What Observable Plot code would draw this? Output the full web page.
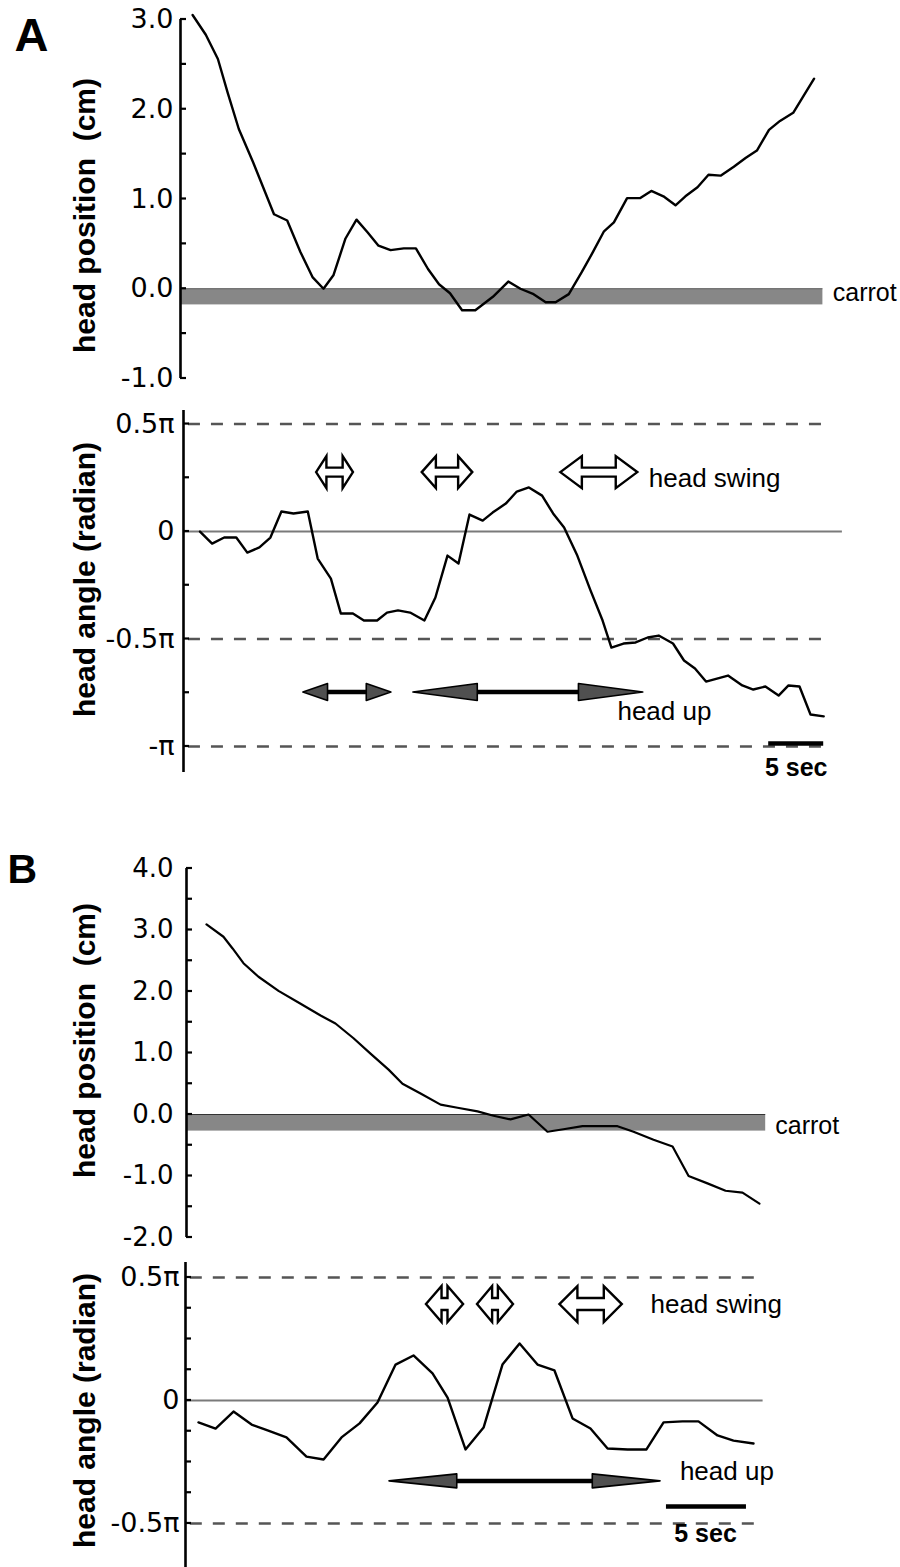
<!DOCTYPE html>
<html>
<head>
<meta charset="utf-8">
<script src="https://cdn.jsdelivr.net/npm/d3@7"></script>
<script src="https://cdn.jsdelivr.net/npm/@observablehq/plot@0.6"></script>
<style>
  body { margin: 0; background: #fff; }
  #fig { position: relative; width: 900px; height: 1567px; font-family: "Liberation Sans", Arial, Helvetica, sans-serif; }
  #fig svg { position: absolute; left: 0; overflow: visible; }
</style>
</head>
<body>
<div id="fig"></div>
<script>
const FONT = '"Liberation Sans", Arial, Helvetica, sans-serif';
const TICK_FONT = '"DejaVu Sans", "Liberation Sans", Arial, sans-serif';

// ---------- DATA ----------
// Panel A, head position (cm) vs time (s)
const aPosTime  = [1.1,2.3,3.4,4.3,5.3,6.6,8.5,9.7,10.9,12.0,13.0,13.9,15.0,16.0,17.0,18.0,19.1,20.3,21.4,22.5,23.5,24.5,25.6,26.8,28.4,29.8,30.9,32.1,33.2,34.1,35.3,36.5,37.5,38.5,39.4,40.6,41.8,42.8,43.9,45.0,45.9,47.0,48.0,49.1,50.3,51.4,52.4,53.5,54.5,55.7,56.6,57.6];
const aPosValue = [3.05,2.83,2.56,2.18,1.78,1.41,0.83,0.76,0.41,0.13,0.0,0.15,0.56,0.77,0.63,0.48,0.43,0.45,0.45,0.22,0.05,-0.05,-0.24,-0.24,-0.09,0.08,0.0,-0.06,-0.15,-0.15,-0.06,0.19,0.41,0.64,0.74,1.01,1.01,1.09,1.03,0.93,1.03,1.13,1.27,1.26,1.36,1.46,1.54,1.77,1.87,1.96,2.14,2.34];
// Panel A, head angle (units of pi rad) vs time (s)
const aAngTime  = [1.5,2.6,3.7,4.8,5.8,6.9,7.9,8.9,10.0,11.3,12.2,13.4,14.3,15.4,16.4,17.6,18.5,19.5,20.6,21.9,22.9,24.0,25.0,26.0,27.2,28.1,29.3,30.3,31.4,32.6,33.6,34.6,35.8,37.0,38.1,38.9,40.0,41.1,42.2,43.2,44.5,45.5,46.5,47.5,48.5,49.5,50.8,51.8,52.9,54.1,55.0,56.0,57.0,58.2];
const aAngValue = [0,-0.056,-0.028,-0.028,-0.098,-0.074,-0.028,0.093,0.084,0.093,-0.126,-0.219,-0.381,-0.381,-0.414,-0.414,-0.377,-0.367,-0.377,-0.414,-0.307,-0.112,-0.149,0.079,0.051,0.088,0.13,0.186,0.205,0.167,0.084,0.019,-0.112,-0.274,-0.414,-0.54,-0.521,-0.516,-0.493,-0.484,-0.521,-0.6,-0.637,-0.698,-0.684,-0.67,-0.716,-0.735,-0.721,-0.763,-0.716,-0.721,-0.851,-0.86];
// Panel B, head position (cm)
const bPosTime  = [1.25,2.31,2.88,3.56,4.5,5.75,7.13,8.38,9.31,10.44,11.5,12.63,13.5,14.63,15.88,16.94,18.19,19.19,20.25,21.38,22.56,23.56,24.75,25.88,26.94,27.94,29.19,30.38,31.38,32.56,33.69,34.75,35.81];
const bPosValue = [3.09,2.89,2.70,2.46,2.24,2.01,1.80,1.61,1.48,1.24,0.99,0.73,0.50,0.34,0.16,0.11,0.05,-0.02,-0.08,0.0,-0.28,-0.24,-0.19,-0.19,-0.19,-0.28,-0.41,-0.52,-1.0,-1.12,-1.24,-1.27,-1.45];
// Panel B, head angle (units of pi rad)
const bAngTime  = [0.81,1.88,3.0,4.13,5.13,6.31,7.56,8.63,9.75,10.88,12.0,13.13,14.25,15.44,16.38,17.5,18.63,19.81,20.88,22.0,23.06,24.19,25.31,26.38,27.63,28.81,29.88,31.06,32.06,33.25,34.25,35.5];
const bAngValue = [-0.089,-0.114,-0.045,-0.098,-0.122,-0.15,-0.228,-0.24,-0.15,-0.093,-0.008,0.146,0.183,0.11,0.012,-0.199,-0.11,0.146,0.232,0.146,0.122,-0.073,-0.114,-0.195,-0.199,-0.199,-0.089,-0.085,-0.085,-0.142,-0.163,-0.175];

// Carrot bands: [start s, end s, top cm, bottom cm]
const aCarrot = [0, 58.4, 0, -0.18];
const bCarrot = [0, 36.2, 0, -0.27];

// Tick values and labels
const aPosTicks = [-1, 0, 1, 2, 3];
const aPosTickLabels = ["-1.0", "0.0", "1.0", "2.0", "3.0"];
const aPosMinor = [-1, -0.5, 0, 0.5, 1, 1.5, 2, 2.5, 3];
const bPosTicks = [-2, -1, 0, 1, 2, 3, 4];
const bPosTickLabels = ["-2.0", "-1.0", "0.0", "1.0", "2.0", "3.0", "4.0"];
const bPosMinor = [-2, -1.5, -1, -0.5, 0, 0.5, 1, 1.5, 2, 2.5, 3, 3.5, 4];
const aAngTicks = [-1, -0.5, 0, 0.5];
const aAngTickLabels = ["-\u03c0", "-0.5\u03c0", "0", "0.5\u03c0"];
const aAngMinor = [-1, -0.75, -0.5, -0.25, 0, 0.25, 0.5];
const bAngTicks = [-0.5, 0, 0.5];
const bAngTickLabels = ["-0.5\u03c0", "0", "0.5\u03c0"];
const bAngMinor = [-0.5, -0.375, -0.25, -0.125, 0, 0.125, 0.25, 0.375, 0.5];
const dashedA = [0.5, -0.5, -1];
const dashedB = [0.5, -0.5];

// Behaviour annotations: [start s, end s]
const aSwing = [[12.1, 15.45], [21.7, 26.3], [34.3, 41.3]];
const aSwingLevel = 0.274;
const aUp = [[10.9, 18.9], [20.9, 41.8]];
const aUpLevel = -0.749;
const bSwing = [[15.06, 17.38], [18.25, 20.5], [23.4, 27.3]];
const bSwingLevel = 0.39;
const bUp = [[12.75, 29.69]];
const bUpLevel = -0.329;
// Scale bars: [start s, end s, level]
const aScaleBar = [53.2, 58.2, -0.986];
const bScaleBar = [30.06, 35.06, -0.431];

// Text annotations
const aAngNotes = [{t: 42.3, v: 0.205, text: "head swing"}, {t: 39.45, v: -0.879, text: "head up"}];
const aBarNote  = [{t: 55.7, v: -1.135, text: "5 sec"}];
const bAngNotes = [{t: 29.06, v: 0.354, text: "head swing"}, {t: 30.9, v: -0.325, text: "head up"}];
const bBarNote  = [{t: 32.5, v: -0.577, text: "5 sec"}];
const aCarrotNote = [{t: 59.3, v: -0.133, text: "carrot"}];
const bCarrotNote = [{t: 36.8, v: -0.31, text: "carrot"}];

const toRows = (ts, vs) => ts.map((t, i) => ({t, v: vs[i]}));

// ---------- helpers ----------
function openArrows(spans, level, o) {
  return (index, scales) => {
    const g = d3.create("svg:g");
    for (const [a, b] of spans) {
      const x1 = scales.x(a), x2 = scales.x(b), y = scales.y(level);
      const h = Math.min(o.headFrac * (x2 - x1), o.headMax), H = o.headHalf, s = o.shaftHalf;
      const p = [[x1, y], [x1 + h, y - H], [x1 + h, y - s], [x2 - h, y - s], [x2 - h, y - H], [x2, y],
                 [x2 - h, y + H], [x2 - h, y + s], [x1 + h, y + s], [x1 + h, y + H]];
      g.append("path").attr("d", "M" + p.map(q => q.join(",")).join("L") + "Z")
        .attr("fill", "white").attr("stroke", "black").attr("stroke-width", 2.4).attr("stroke-linejoin", "miter");
    }
    return g.node();
  };
}
function solidArrows(spans, level, o) {
  return (index, scales) => {
    const g = d3.create("svg:g");
    for (const [a, b] of spans) {
      const x1 = scales.x(a), x2 = scales.x(b), y = scales.y(level);
      const h = o.headFrac * (x2 - x1), H = o.headHalf;
      g.append("line").attr("x1", x1 + h * 0.8).attr("x2", x2 - h * 0.8).attr("y1", y).attr("y2", y)
        .attr("stroke", "black").attr("stroke-width", 4.5);
      for (const [tip, base] of [[x1, x1 + h], [x2, x2 - h]]) {
        g.append("path").attr("d", `M${tip},${y}L${base},${y - H}L${base},${y + H}Z`)
          .attr("fill", "#505050").attr("stroke", "black").attr("stroke-width", 1.6).attr("stroke-linejoin", "round");
      }
    }
    return g.node();
  };
}
// inward tick marks along the left axis, positioned by the y scale
function inwardTicks(values, len) {
  return (index, scales) => {
    const g = d3.create("svg:g");
    const x0 = scales.x(0);
    for (const v of values) {
      const y = scales.y(v);
      g.append("line").attr("x1", x0).attr("x2", x0 + len).attr("y1", y).attr("y2", y)
        .attr("stroke", "black").attr("stroke-width", 2.2);
    }
    return g.node();
  };
}
function yScale(domain, ticks, labels, padding) {
  return {domain, ticks, tickFormat: d => labels[ticks.indexOf(d)], tickSize: 0, tickPadding: padding, label: null};
}
const style = fs => ({fontFamily: TICK_FONT, fontSize: fs + "px", overflow: "visible", background: "transparent", color: "black"});

const fig = document.getElementById("fig");
function place(svg, top) { svg.style.top = top + "px"; fig.appendChild(svg); }

const LINE_W = 2.4;
const DASH = {stroke: "#555", strokeWidth: 2.4, strokeDasharray: "12,11"};
const ZERO = {stroke: "#7a7a7a", strokeWidth: 2.2};
const T = {fontFamily: FONT, fill: "black"};

// ---------- Panel A: head position ----------
const pA1 = Plot.plot({
  width: 900, height: 395,
  marginLeft: 180, marginRight: 60, marginTop: 19, marginBottom: 17,
  style: style(27),
  x: {domain: [0, 60], axis: null},
  y: yScale([-1, 3], aPosTicks, aPosTickLabels, 7),
  marks: [
    Plot.rect([aCarrot], {x1: d => d[0], x2: d => d[1], y1: d => d[2], y2: d => d[3], fill: "#878787"}),
    Plot.ruleY([aCarrot], {x1: d => d[0], x2: d => d[1], y: d => d[2], stroke: "#666", strokeWidth: 1}),
    Plot.ruleX([0], {stroke: "black", strokeWidth: 2.6}),
    inwardTicks(aPosMinor, 6),
    Plot.line(toRows(aPosTime, aPosValue), {x: "t", y: "v", stroke: "black", strokeWidth: LINE_W}),
    Plot.text(aCarrotNote, {x: "t", y: "v", text: "text", textAnchor: "start", lineAnchor: "bottom", fontSize: 25, ...T}),
    Plot.text(["A"], {frameAnchor: "top-left", textAnchor: "start", lineAnchor: "bottom", dx: -166, dy: 31, fontSize: 47, fontWeight: "bold", ...T}),
    Plot.text(["head position  (cm)"], {frameAnchor: "left", rotate: -90, textAnchor: "middle", lineAnchor: "middle", dx: -95.5, dy: 16.5, fontSize: 30, fontWeight: "bold", ...T})
  ]
});
place(pA1, 0);

// ---------- Panel A: head angle ----------
const pA2 = Plot.plot({
  width: 900, height: 405,
  marginLeft: 183, marginRight: 57, marginTop: 15, marginBottom: 28,
  style: style(27),
  x: {domain: [0, 60], axis: null},
  y: yScale([-1.121, 0.563], aAngTicks, aAngTickLabels, 9),
  marks: [
    Plot.ruleY(dashedA, {x1: 0.45, x2: 58.6, ...DASH}),
    Plot.ruleY([0], {x1: 0, x2: 59.9, ...ZERO}),
    Plot.ruleX([0], {stroke: "black", strokeWidth: 2.6}),
    inwardTicks(aAngMinor, 6),
    Plot.line(toRows(aAngTime, aAngValue), {x: "t", y: "v", stroke: "black", strokeWidth: LINE_W}),
    openArrows(aSwing, aSwingLevel, {headFrac: 0.28, headMax: 22, headHalf: 16, shaftHalf: 4.5}),
    solidArrows(aUp, aUpLevel, {headFrac: 0.28, headHalf: 8.5}),
    Plot.ruleY([aScaleBar], {x1: d => d[0], x2: d => d[1], y: d => d[2], stroke: "black", strokeWidth: 4.5}),
    Plot.text(aAngNotes, {x: "t", y: "v", text: "text", textAnchor: "start", lineAnchor: "bottom", fontSize: 26, ...T}),
    Plot.text(aBarNote, {x: "t", y: "v", text: "text", textAnchor: "middle", lineAnchor: "bottom", fontSize: 25, fontWeight: "bold", ...T}),
    Plot.text(["head angle (radian)"], {frameAnchor: "left", rotate: -90, textAnchor: "middle", lineAnchor: "middle", dx: -98.5, dy: -12, fontSize: 30, fontWeight: "bold", ...T})
  ]
});
place(pA2, 395);

// ---------- Panel B: head position ----------
const pB1 = Plot.plot({
  width: 900, height: 452,
  marginLeft: 186, marginRight: 74, marginTop: 68, marginBottom: 15,
  style: style(26),
  x: {domain: [0, 40], axis: null},
  y: yScale([-2, 4], bPosTicks, bPosTickLabels, 13),
  marks: [
    Plot.rect([bCarrot], {x1: d => d[0], x2: d => d[1], y1: d => d[2], y2: d => d[3], fill: "#878787"}),
    Plot.ruleY([bCarrot], {x1: d => d[0], x2: d => d[1], y: d => d[2], stroke: "#333", strokeWidth: 1}),
    Plot.ruleX([0], {stroke: "black", strokeWidth: 2.6}),
    inwardTicks(bPosMinor, 6),
    Plot.line(toRows(bPosTime, bPosValue), {x: "t", y: "v", stroke: "black", strokeWidth: 2.2}),
    Plot.text(bCarrotNote, {x: "t", y: "v", text: "text", textAnchor: "start", lineAnchor: "bottom", fontSize: 25, ...T}),
    Plot.text(["B"], {frameAnchor: "top-left", textAnchor: "start", lineAnchor: "bottom", dx: -179, dy: 14, fontSize: 41, fontWeight: "bold", ...T}),
    Plot.text(["head position  (cm)"], {frameAnchor: "left", rotate: -90, textAnchor: "middle", lineAnchor: "middle", dx: -101.5, dy: -12.5, fontSize: 30, fontWeight: "bold", ...T})
  ]
});
place(pB1, 800);

// ---------- Panel B: head angle ----------
const pB2 = Plot.plot({
  width: 900, height: 315,
  marginLeft: 185, marginRight: 75, marginTop: 10, marginBottom: 0,
  style: style(27),
  x: {domain: [0, 40], axis: null},
  y: yScale([-0.679, 0.561], bAngTicks, bAngTickLabels, 6),
  marks: [
    Plot.ruleY(dashedB, {x1: 0.3, x2: 35.7, ...DASH}),
    Plot.ruleY([0], {x1: 0, x2: 36.1, ...ZERO}),
    Plot.ruleX([0], {stroke: "black", strokeWidth: 2.6}),
    inwardTicks(bAngMinor, 6),
    Plot.line(toRows(bAngTime, bAngValue), {x: "t", y: "v", stroke: "black", strokeWidth: LINE_W}),
    openArrows(bSwing, bSwingLevel, {headFrac: 0.42, headMax: 18, headHalf: 18, shaftHalf: 6}),
    solidArrows(bUp, bUpLevel, {headFrac: 0.25, headHalf: 7}),
    Plot.ruleY([bScaleBar], {x1: d => d[0], x2: d => d[1], y: d => d[2], stroke: "black", strokeWidth: 4.5}),
    Plot.text(bAngNotes, {x: "t", y: "v", text: "text", textAnchor: "start", lineAnchor: "bottom", fontSize: 26, ...T}),
    Plot.text(bBarNote, {x: "t", y: "v", text: "text", textAnchor: "middle", lineAnchor: "bottom", fontSize: 25, fontWeight: "bold", ...T}),
    Plot.text(["head angle (radian)"], {frameAnchor: "left", rotate: -90, textAnchor: "middle", lineAnchor: "middle", dx: -100.5, dy: -4.5, fontSize: 30, fontWeight: "bold", ...T})
  ]
});
place(pB2, 1252);
</script>
</body>
</html>
